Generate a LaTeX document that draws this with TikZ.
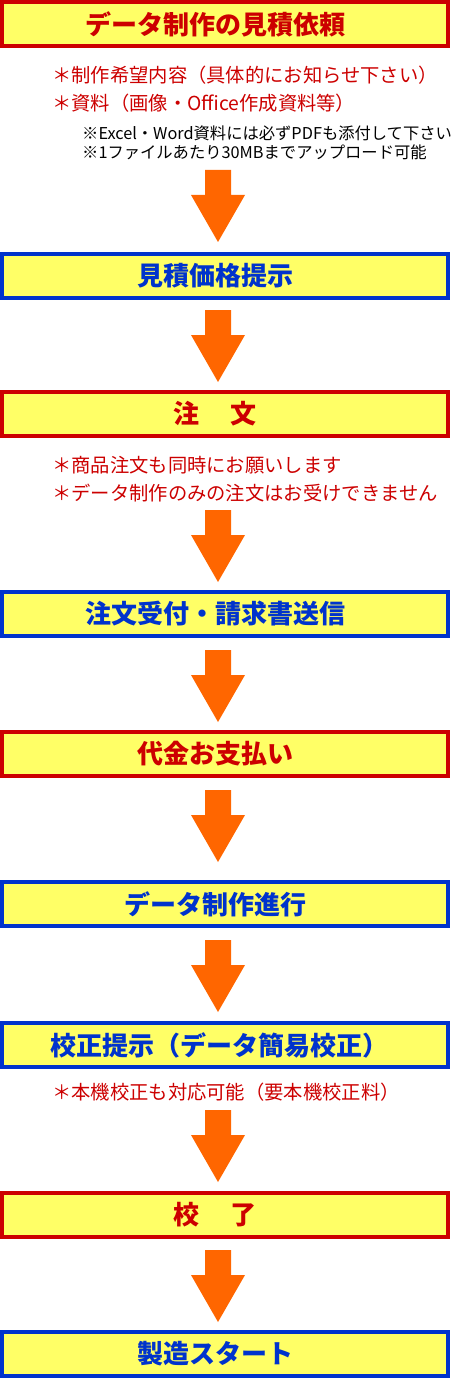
\documentclass[tikz,border=0pt]{standalone}
\usepackage{fontspec}
\newfontfamily\jp{Noto Sans CJK JP}
\usetikzlibrary{positioning}
\definecolor{boxred}{HTML}{CC0000}
\definecolor{boxblue}{HTML}{0033CC}
\definecolor{boxfill}{HTML}{FFFF66}
\definecolor{arrowor}{HTML}{FF6600}

\begin{document}
\begin{tikzpicture}[x=1pt, y=-1pt,
  stage/.style={draw, line width=4pt, fill=boxfill, minimum width=446pt, minimum height=44pt,
    inner sep=0pt, font=\jp\bfseries\fontsize{26}{30}\selectfont},
  redstage/.style={stage, draw=boxred, text=boxred},
  bluestage/.style={stage, draw=boxblue, text=boxblue},
  note/.style={anchor=west, inner sep=0pt, align=left, text=boxred, font=\jp\fontsize{19.3}{28}\selectfont},
  smallnote/.style={anchor=west, inner sep=0pt, align=left, font=\jp\fontsize{16.3}{19}\selectfont}]
  \useasboundingbox (0,0) rectangle (453,1380);
  \node[redstage] (b1) at (225,24) {\hspace{-20pt}データ制作の見積依頼};
  \node[note] (n1) at (52,89) {＊制作希望内容（具体的にお知らせ下さい）\\＊資料（画像・Office作成資料等）};
  \node[smallnote] (n1b) at (82,142.5) {※Excel・Word資料には必ずPDFも添付して下さい\\※1ファイルあたり30MBまでアップロード可能};
  \node[bluestage] (b2) at (225,276) {\hspace{-20pt}見積価格提示};
  \node[redstage] (b3) at (225,414) {\hspace{-20pt}注　 文};
  \node[note] (n3) at (52,479) {＊商品注文も同時にお願いします\\＊データ制作のみの注文はお受けできません};
  \node[bluestage] (b4) at (225,614) {\hspace{-20pt}注文受付・請求書送信};
  \node[redstage] (b5) at (225,754) {\hspace{-20pt}代金お支払い};
  \node[bluestage] (b6) at (225,904) {\hspace{-20pt}データ制作進行};
  \node[bluestage] (b7) at (225,1045) {\hspace{-12pt}校正提示（データ簡易校正）};
  \node[note] (n7) at (52,1092) {＊本機校正も対応可能（要本機校正料）};
  \node[redstage] (b8) at (225,1215) {\hspace{-20pt}校　 了};
  \node[bluestage] (b9) at (225,1354) {\hspace{-20pt}製造スタート};
  % fat arrows between the stages
  \foreach \t in {170,310,510,650,790,940,1110,1250}
    \fill[arrowor] (205,\t) -- (231,\t) -- (231,\t+25) -- (245,\t+25) -- (218,\t+72)
      -- (191,\t+25) -- (205,\t+25) -- cycle;
\end{tikzpicture}
\end{document}
